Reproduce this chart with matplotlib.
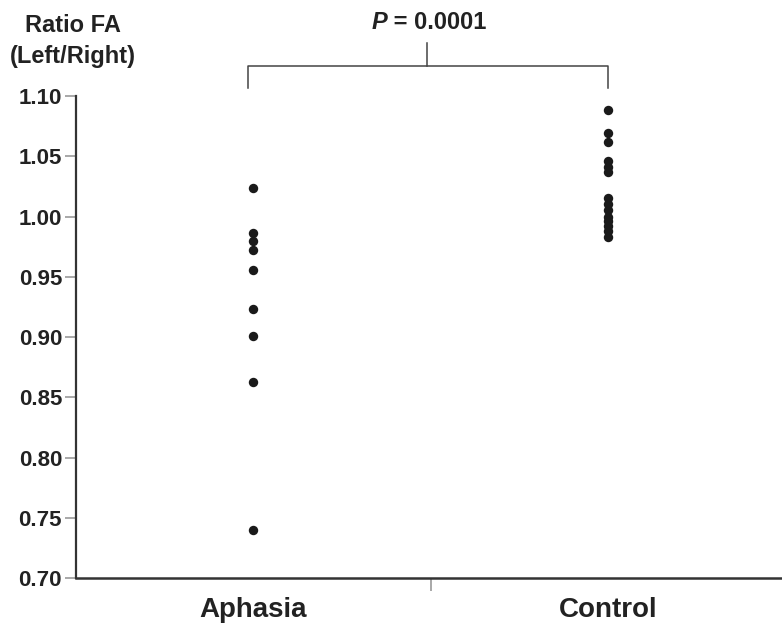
import numpy as np
import matplotlib
matplotlib.use('Agg')
import matplotlib.pyplot as plt
from matplotlib import font_manager

# pick a narrow helvetica-ish face if there is one
names = set(f.name for f in font_manager.fontManager.ttflist)
fam = [f for f in ['Liberation Sans Narrow', 'Liberation Sans', 'DejaVu Sans'] if f in names]
plt.rcParams['font.family'] = fam

groups = ['Aphasia', 'Control']
aphasia = [1.024, 0.986, 0.980, 0.972, 0.956, 0.923, 0.901, 0.863, 0.740]
control = [1.088, 1.069, 1.062, 1.046, 1.041, 1.037,
           1.015, 1.010, 1.005, 1.000, 0.996, 0.992, 0.988, 0.983]
p_label = 'P'
p_value = ' = 0.0001'

fig = plt.figure(figsize=(7.82, 6.28), dpi=100)
ax = fig.add_axes([0.0972, 0.0796, 0.9028, 0.7675])

for i, vals in enumerate([aphasia, control]):
    ax.scatter(np.full(len(vals), i + 1), vals, s=46, color='#1a1a1a', zorder=3, linewidths=0)

ax.set_xlim(0.5, 2.49)
ax.set_ylim(0.70, 1.10)
ax.set_yticks(np.arange(0.70, 1.1001, 0.05))
ax.set_yticklabels(['%.2f' % v for v in np.arange(0.70, 1.1001, 0.05)],
                   fontsize=16, fontweight='bold', color='#222222')
ax.tick_params(axis='y', length=8, width=1.2, color='#999999', pad=2)

ax.set_xticks([1, 2])
ax.set_xticklabels(groups, fontsize=20, fontweight='bold', color='#222222')
ax.tick_params(axis='x', length=0, pad=14)
ax.set_xticks([1.5], minor=True)
ax.tick_params(axis='x', which='minor', length=9, width=1.2, color='#999999')

for s in ['top', 'right']:
    ax.spines[s].set_visible(False)
ax.spines['left'].set_color('#333333')
ax.spines['left'].set_linewidth(1.6)
ax.spines['bottom'].set_color('#333333')
ax.spines['bottom'].set_linewidth(1.8)

# significance bracket
kw = dict(color='#444444', lw=1.1, clip_on=False)
ax.plot([0.985, 0.985, 2.0, 2.0], [1.1066, 1.125, 1.125, 1.1066], **kw)
ax.plot([1.49, 1.49], [1.125, 1.144], **kw)
ax.text(1.377, 1.161, p_label, ha='right', va='center', fontsize=17,
        fontweight='bold', fontstyle='italic', color='#222222', clip_on=False)
ax.text(1.377, 1.161, p_value, ha='left', va='center', fontsize=17,
        fontweight='bold', color='#222222', clip_on=False)

fig.text(0.093, 0.935, 'Ratio FA\n(Left/Right)', ha='center', va='center',
         fontsize=17, fontweight='bold', color='#222222', linespacing=1.45)

fig.savefig('out.png', dpi=100)
